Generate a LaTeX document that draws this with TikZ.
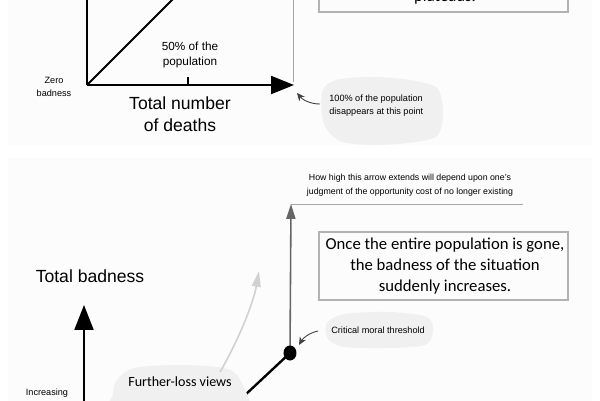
\documentclass[tikz,border=0pt]{standalone}
\usepackage{fontspec}
\setmainfont{Liberation Sans}
\newfontfamily\calibri{Carlito}
\usetikzlibrary{positioning, arrows.meta, calc}

\begin{document}
\begin{tikzpicture}[
  x=0.02cm, y=-0.02cm,
  axis/.style={line width=1.15pt},
  bigtext/.style={font=\fontsize{10}{12.5}\selectfont, align=center, inner sep=0pt},
  note/.style={font=\fontsize{5.2}{7.5}\selectfont, align=left, inner sep=0pt},
  tinynote/.style={font=\fontsize{5}{7.9}\selectfont, align=center, inner sep=0pt},
  midnote/.style={font=\fontsize{6.7}{8.3}\selectfont, align=center, inner sep=0pt},
  claim/.style={font=\calibri\fontsize{9.5}{11.9}\selectfont, align=center, inner sep=0pt},
  claimbox/.style={draw=black!30, line width=0.75pt},
  blob/.style={fill=black!6, draw=none},
  pointer/.style={-{Stealth[length=4.5pt, width=4pt]}, line width=0.5pt, black!75},
]
\clip (0,0) rectangle (600,400);
\fill[white] (0,0) rectangle (600,400);
% faint panels
\fill[black!1] (8,-10) rectangle (592,145);
\fill[black!1] (8,158) rectangle (592,410);

% ---------- Top diagram ----------
\coordinate (O1) at (87,85);
\coordinate (ytop) at (87,-10);
\coordinate (dtop) at (182,-10);
\coordinate (xend) at (294,85);
\draw[axis] (O1) -- (ytop);
\draw[axis] (O1) -- (dtop);
\draw[axis, -{Triangle[length=13pt, width=10.2pt]}] (O1) -- (xend);
\coordinate (half) at (188,85);
\draw[line width=0.7pt] (half) -- ++(0,-8);
\draw[black!35, line width=0.5pt] (293,-10) -- (293,82);

\node[midnote] (halfpop) at (190,55) {50\% of the\\population};
\node[note, align=center] (zero) at (54,87) {Zero\\badness};
\node[bigtext] (deaths) at (180,114) {Total number\\of deaths};

% plateau box (cut off)
\draw[claimbox] (319,-40) rectangle (568,12);
\node[claim, anchor=base] (plateau) at (445,1) {plateaus.};

% note on the end point
\fill[blob] plot[smooth cycle] coordinates {(322,92) (336,80) (372,77) (410,80) (437,88) (443,112) (437,136) (408,143) (370,145) (340,141) (324,124)};
\node[note, anchor=west] (allgone) at (329,106) {100\% of the population\\disappears at this point};
\draw[pointer] (320,104) .. controls (309,104) and (302,99) .. (297,93);

% ---------- Bottom diagram ----------
\node[tinynote] (howhigh) at (410,185) {How high this arrow extends will depend upon one's\\judgment of the opportunity cost of no longer existing};
\coordinate (cap) at (291,204);
\draw[black!35, line width=0.5pt] (cap) -- (523,204);

\coordinate (thresh) at (290,353);
\coordinate (lowend) at (228,411);
\draw[line width=1.35pt] (thresh) -- (lowend);
\draw[black!60, line width=0.9pt, -{Triangle[length=8.5pt, width=5.2pt]}] (thresh) -- (cap);
\fill (thresh) ellipse [x radius=6.5, y radius=7.5];

\draw[claimbox] (319,232) rectangle (568,300);
\node[claim] (gone) at (445,266) {Once the entire population is gone,\\the badness of the situation\\suddenly increases.};

\fill[blob] plot[smooth cycle] coordinates {(327,323) (345,314) (390,312) (427,317) (433,331) (425,345) (390,348) (345,347) (328,339)};
\node[note, anchor=west] (critical) at (331,330) {Critical moral threshold};
\draw[pointer] (318,331) .. controls (309,333) and (303,338) .. (299,345);

\fill[blob] plot[smooth cycle] coordinates {(117,380) (134,368) (180,365) (228,369) (243,386) (241,410) (118,410) (113,394)};
\node[claim, font=\calibri\fontsize{8}{10}\selectfont] (further) at (180,382) {Further-loss views};
\coordinate (fstart) at (220,372);
\coordinate (ftip) at (259,271);
\draw[black!18, line width=0.9pt, -{Triangle[length=9pt, width=5pt]}] (fstart) .. controls (236,345) and (253,305) .. (ftip);

\node[bigtext] (badness) at (90,276) {Total badness};
\coordinate (ybase) at (84,412);
\coordinate (yup) at (84,305);
\draw[axis, -{Triangle[length=14.2pt, width=10.8pt]}] (ybase) -- (yup);
\node[note] (incr) at (47,393) {Increasing};
\end{tikzpicture}
\end{document}
